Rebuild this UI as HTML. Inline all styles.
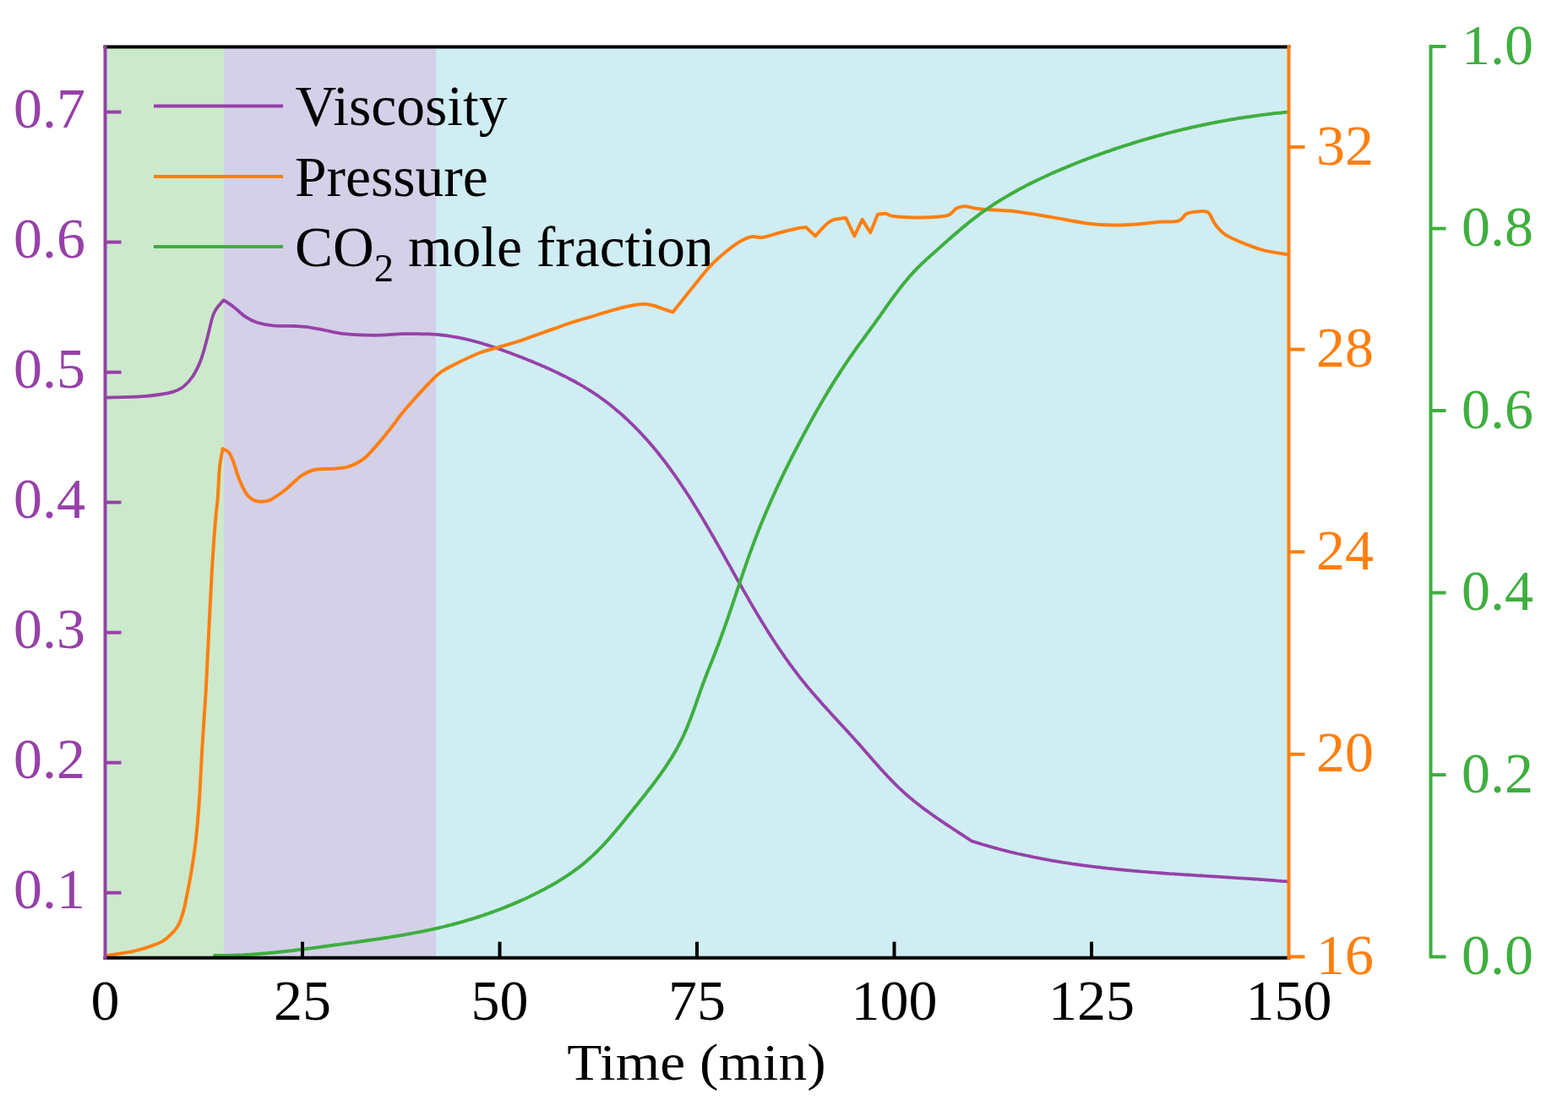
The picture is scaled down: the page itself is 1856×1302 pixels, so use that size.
<!DOCTYPE html>
<html><head><meta charset="utf-8"><style>
html,body{margin:0;padding:0;background:#fff;}
body{width:1856px;height:1302px;overflow:hidden;}
svg{display:block;}
</style></head><body>
<svg width="1856" height="1302" viewBox="0 0 1856 1302">
<rect x="124.5" y="55.6" width="1401.0" height="1078.1000000000001" fill="#cfedf2"/>
<rect x="265" y="55.6" width="251" height="1078.1000000000001" fill="#d3d0e8" shape-rendering="crispEdges"/>
<rect x="124.5" y="55.6" width="140.5" height="1078.1000000000001" fill="#cce9cb"/>
<line x1="182" y1="125.6" x2="335" y2="125.6" stroke="#9641a8" stroke-width="4"/>
<line x1="182" y1="208.9" x2="335" y2="208.9" stroke="#ff7f0e" stroke-width="4"/>
<line x1="182" y1="292" x2="335" y2="292" stroke="#3fae3f" stroke-width="4"/>
<g font-family="&quot;Liberation Serif&quot;, serif" font-size="67.5" fill="#000">
<text x="349.5" y="147.8">Viscosity</text>
<text x="349" y="231.7">Pressure</text>
<text x="349" y="315">CO<tspan font-size="46.5" dy="18">2</tspan><tspan dy="-18"> mole fraction</tspan></text>
</g>
<path d="M126.0,470.6 C132.7,470.4 155.5,470.0 166.0,469.4 C176.5,468.8 182.4,468.0 189.0,467.0 C195.6,466.0 200.7,465.1 205.3,463.6 C209.9,462.1 213.0,461.0 216.8,457.9 C220.6,454.8 224.9,450.4 228.3,445.2 C231.8,440.0 234.8,433.7 237.5,426.8 C240.2,419.9 242.1,412.2 244.4,403.7 C246.7,395.2 249.4,382.3 251.3,376.0 C253.2,369.7 253.8,369.1 256.0,365.7 C258.2,362.2 263.2,357.0 264.7,355.3 C266.7,356.6 272.4,360.1 276.7,363.4 C281.0,366.7 285.9,371.8 290.5,374.9 C295.1,378.0 298.9,380.1 304.3,381.8 C309.7,383.5 315.1,384.6 322.8,385.3 C330.5,386.0 343.5,385.7 350.4,386.0 C357.3,386.3 358.4,386.3 364.2,387.1 C370.0,387.9 377.7,389.6 385.0,391.0 C392.3,392.4 398.4,394.2 408.0,395.2 C417.6,396.2 431.1,396.8 442.6,396.8 C454.1,396.8 467.5,395.5 477.1,395.2 C486.7,394.9 495.6,395.3 500.0,395.3 C504.3,395.3 502.1,395.3 503.2,395.3 C504.3,395.3 505.3,395.4 506.4,395.4 C507.5,395.4 508.5,395.5 509.6,395.5 C510.6,395.6 511.7,395.6 512.7,395.7 C513.8,395.8 514.8,395.8 515.9,395.9 C516.9,396.0 517.9,396.1 519.0,396.2 C520.0,396.3 521.0,396.4 522.1,396.5 C523.1,396.6 524.1,396.7 525.1,396.8 C526.1,396.9 527.2,397.1 528.2,397.2 C529.2,397.3 530.2,397.5 531.2,397.6 C532.2,397.8 533.2,397.9 534.2,398.1 C535.2,398.2 536.2,398.4 537.2,398.6 C538.2,398.7 539.2,398.9 540.2,399.1 C541.2,399.3 542.2,399.5 543.2,399.7 C544.2,399.9 545.2,400.1 546.2,400.3 C547.2,400.5 548.2,400.7 549.1,400.9 C550.1,401.1 551.1,401.3 552.1,401.6 C553.1,401.8 554.0,402.0 555.0,402.3 C556.0,402.5 556.9,402.7 557.9,403.0 C558.9,403.2 559.9,403.5 560.8,403.7 C561.8,404.0 562.8,404.2 563.7,404.5 C564.7,404.8 565.7,405.0 566.6,405.3 C567.6,405.6 568.5,405.9 569.5,406.2 C570.5,406.4 571.4,406.7 572.4,407.0 C573.4,407.3 574.3,407.6 575.3,407.9 C576.2,408.2 577.2,408.5 578.1,408.8 C579.1,409.1 580.0,409.4 581.0,409.7 C582.0,410.0 582.9,410.4 583.9,410.7 C584.8,411.0 585.8,411.3 586.7,411.6 C587.7,412.0 588.6,412.3 589.6,412.6 C590.5,413.0 591.5,413.3 592.5,413.6 C593.4,414.0 594.4,414.3 595.3,414.7 C596.3,415.0 597.2,415.4 598.2,415.7 C599.1,416.1 600.1,416.4 601.0,416.8 C602.0,417.1 602.9,417.5 603.9,417.8 C604.9,418.2 605.8,418.5 606.8,418.9 C607.7,419.3 608.7,419.6 609.6,420.0 C610.6,420.4 611.6,420.7 612.5,421.1 C613.5,421.5 614.4,421.9 615.4,422.2 C616.4,422.6 617.3,423.0 618.3,423.4 C619.3,423.7 620.2,424.1 621.2,424.5 C622.2,424.9 623.1,425.3 624.1,425.7 C625.0,426.0 626.0,426.4 627.0,426.8 C627.9,427.2 628.9,427.6 629.9,428.0 C630.8,428.4 631.8,428.8 632.8,429.2 C633.7,429.6 634.7,430.0 635.7,430.4 C636.6,430.8 637.6,431.2 638.5,431.6 C639.5,432.0 640.5,432.5 641.4,432.9 C642.4,433.3 643.3,433.7 644.3,434.1 C645.3,434.5 646.2,435.0 647.2,435.4 C648.1,435.8 649.1,436.3 650.1,436.7 C651.0,437.1 652.0,437.5 652.9,438.0 C653.9,438.4 654.8,438.9 655.8,439.3 C656.7,439.8 657.7,440.2 658.6,440.6 C659.6,441.1 660.5,441.5 661.5,442.0 C662.4,442.5 663.3,442.9 664.3,443.4 C665.2,443.8 666.2,444.3 667.1,444.8 C668.0,445.2 669.0,445.7 669.9,446.2 C670.8,446.7 671.8,447.1 672.7,447.6 C673.6,448.1 674.5,448.6 675.5,449.1 C676.4,449.6 677.3,450.1 678.2,450.5 C679.1,451.0 680.0,451.5 681.0,452.0 C681.9,452.5 682.8,453.1 683.7,453.6 C684.6,454.1 685.5,454.6 686.4,455.1 C687.3,455.6 688.2,456.1 689.1,456.7 C690.0,457.2 690.9,457.7 691.8,458.2 C692.6,458.8 693.5,459.3 694.4,459.9 C695.3,460.4 696.2,460.9 697.0,461.5 C697.9,462.0 698.8,462.6 699.6,463.1 C700.5,463.7 701.4,464.3 702.2,464.8 C703.1,465.4 703.9,465.9 704.8,466.5 C705.6,467.1 706.5,467.7 707.3,468.2 C708.2,468.8 709.0,469.4 709.8,470.0 C710.7,470.6 711.5,471.2 712.3,471.8 C713.1,472.4 714.0,473.0 714.8,473.6 C715.6,474.2 716.4,474.8 717.2,475.4 C718.0,476.0 718.9,476.6 719.7,477.2 C720.5,477.9 721.3,478.5 722.1,479.1 C722.9,479.7 723.6,480.4 724.4,481.0 C725.2,481.6 726.0,482.3 726.8,482.9 C727.6,483.6 728.4,484.2 729.1,484.9 C729.9,485.5 730.7,486.2 731.4,486.8 C732.2,487.5 733.0,488.1 733.7,488.8 C734.5,489.4 735.3,490.1 736.0,490.8 C736.8,491.5 737.5,492.1 738.3,492.8 C739.0,493.5 739.8,494.2 740.5,494.8 C741.2,495.5 742.0,496.2 742.7,496.9 C743.5,497.6 744.2,498.3 744.9,499.0 C745.6,499.7 746.4,500.4 747.1,501.1 C747.8,501.8 748.5,502.5 749.3,503.2 C750.0,503.9 750.7,504.6 751.4,505.3 C752.1,506.0 752.8,506.8 753.5,507.5 C754.2,508.2 754.9,508.9 755.6,509.7 C756.3,510.4 757.0,511.1 757.7,511.8 C758.4,512.6 759.1,513.3 759.8,514.0 C760.5,514.8 761.1,515.5 761.8,516.3 C762.5,517.0 763.2,517.8 763.9,518.5 C764.5,519.3 765.2,520.0 765.9,520.8 C766.5,521.5 767.2,522.3 767.9,523.0 C768.5,523.8 769.2,524.6 769.9,525.3 C770.5,526.1 771.2,526.9 771.8,527.6 C772.5,528.4 773.1,529.2 773.8,530.0 C774.4,530.7 775.1,531.5 775.7,532.3 C776.4,533.1 777.0,533.9 777.6,534.6 C778.3,535.4 778.9,536.2 779.6,537.0 C780.2,537.8 780.8,538.6 781.5,539.4 C782.1,540.2 782.7,541.0 783.3,541.8 C784.0,542.6 784.6,543.4 785.2,544.2 C785.8,545.0 786.4,545.8 787.1,546.6 C787.7,547.4 788.3,548.2 788.9,549.0 C789.5,549.9 790.1,550.7 790.7,551.5 C791.3,552.3 791.9,553.1 792.5,553.9 C793.1,554.8 793.7,555.6 794.3,556.4 C794.9,557.2 795.5,558.1 796.1,558.9 C796.7,559.7 797.3,560.6 797.9,561.4 C798.5,562.2 799.1,563.1 799.7,563.9 C800.2,564.7 800.8,565.6 801.4,566.4 C802.0,567.2 802.6,568.1 803.2,568.9 C803.7,569.8 804.3,570.6 804.9,571.5 C805.5,572.3 806.0,573.2 806.6,574.0 C807.2,574.9 807.8,575.7 808.3,576.6 C808.9,577.4 809.5,578.3 810.0,579.1 C810.6,580.0 811.1,580.8 811.7,581.7 C812.3,582.6 812.8,583.4 813.4,584.3 C813.9,585.2 814.5,586.0 815.1,586.9 C815.6,587.7 816.2,588.6 816.7,589.5 C817.3,590.3 817.8,591.2 818.4,592.1 C818.9,593.0 819.5,593.8 820.0,594.7 C820.6,595.6 821.1,596.4 821.7,597.3 C822.2,598.2 822.7,599.1 823.3,599.9 C823.8,600.8 824.4,601.7 824.9,602.6 C825.4,603.5 826.0,604.3 826.5,605.2 C827.1,606.1 827.6,607.0 828.1,607.9 C828.7,608.8 829.2,609.6 829.7,610.5 C830.3,611.4 830.8,612.3 831.3,613.2 C831.8,614.1 832.4,615.0 832.9,615.8 C833.4,616.7 834.0,617.6 834.5,618.5 C835.0,619.4 835.5,620.3 836.1,621.2 C836.6,622.1 837.1,623.0 837.6,623.9 C838.1,624.7 838.7,625.6 839.2,626.5 C839.7,627.4 840.2,628.3 840.7,629.2 C841.3,630.1 841.8,631.0 842.3,631.9 C842.8,632.8 843.3,633.7 843.8,634.6 C844.4,635.5 844.9,636.4 845.4,637.3 C845.9,638.2 846.4,639.1 846.9,640.0 C847.4,640.9 847.9,641.8 848.5,642.7 C849.0,643.6 849.5,644.5 850.0,645.4 C850.5,646.3 851.0,647.2 851.5,648.1 C852.0,649.0 852.5,649.9 853.0,650.8 C853.6,651.7 854.1,652.6 854.6,653.5 C855.1,654.4 855.6,655.3 856.1,656.2 C856.6,657.1 857.1,658.0 857.6,658.9 C858.1,659.8 858.6,660.7 859.1,661.6 C859.6,662.5 860.1,663.4 860.6,664.3 C861.1,665.2 861.6,666.1 862.2,667.0 C862.7,667.9 863.2,668.8 863.7,669.7 C864.2,670.6 864.7,671.5 865.2,672.4 C865.7,673.3 866.2,674.2 866.7,675.1 C867.2,676.0 867.7,676.9 868.2,677.8 C868.7,678.7 869.2,679.6 869.7,680.5 C870.2,681.4 870.7,682.3 871.2,683.2 C871.7,684.1 872.2,685.0 872.7,685.9 C873.2,686.8 873.7,687.6 874.2,688.5 C874.8,689.4 875.3,690.3 875.8,691.2 C876.3,692.1 876.8,693.0 877.3,693.9 C877.8,694.8 878.3,695.7 878.8,696.6 C879.3,697.5 879.8,698.4 880.3,699.2 C880.8,700.1 881.3,701.0 881.8,701.9 C882.3,702.8 882.8,703.7 883.4,704.6 C883.9,705.5 884.4,706.3 884.9,707.2 C885.4,708.1 885.9,709.0 886.4,709.9 C886.9,710.8 887.4,711.6 887.9,712.5 C888.5,713.4 889.0,714.3 889.5,715.2 C890.0,716.1 890.5,716.9 891.0,717.8 C891.5,718.7 892.1,719.6 892.6,720.4 C893.1,721.3 893.6,722.2 894.1,723.1 C894.6,723.9 895.2,724.8 895.7,725.7 C896.2,726.6 896.7,727.4 897.2,728.3 C897.8,729.2 898.3,730.1 898.8,730.9 C899.3,731.8 899.9,732.7 900.4,733.5 C900.9,734.4 901.4,735.3 902.0,736.1 C902.5,737.0 903.0,737.9 903.6,738.7 C904.1,739.6 904.6,740.5 905.2,741.3 C905.7,742.2 906.2,743.0 906.8,743.9 C907.3,744.8 907.8,745.6 908.4,746.5 C908.9,747.3 909.4,748.2 910.0,749.1 C910.5,749.9 911.1,750.8 911.6,751.6 C912.2,752.5 912.7,753.3 913.3,754.2 C913.8,755.0 914.4,755.9 914.9,756.7 C915.5,757.6 916.0,758.4 916.6,759.3 C917.1,760.1 917.7,761.0 918.2,761.8 C918.8,762.7 919.3,763.5 919.9,764.3 C920.5,765.2 921.0,766.0 921.6,766.9 C922.2,767.7 922.7,768.5 923.3,769.4 C923.9,770.2 924.4,771.0 925.0,771.9 C925.6,772.7 926.2,773.6 926.7,774.4 C927.3,775.2 927.9,776.0 928.5,776.9 C929.0,777.7 929.6,778.5 930.2,779.4 C930.8,780.2 931.4,781.0 932.0,781.8 C932.6,782.7 933.1,783.5 933.7,784.3 C934.3,785.1 934.9,786.0 935.5,786.8 C936.1,787.6 936.7,788.4 937.3,789.2 C937.9,790.0 938.5,790.9 939.1,791.7 C939.8,792.5 940.4,793.3 941.0,794.1 C941.6,794.9 942.2,795.7 942.8,796.5 C943.4,797.3 944.1,798.1 944.7,799.0 C945.3,799.8 945.9,800.6 946.5,801.4 C947.2,802.2 947.8,803.0 948.4,803.8 C949.1,804.6 949.7,805.4 950.3,806.2 C951.0,807.0 951.6,807.7 952.3,808.5 C952.9,809.3 953.6,810.1 954.2,810.9 C954.9,811.7 955.5,812.5 956.2,813.3 C956.8,814.1 957.5,814.8 958.1,815.6 C958.8,816.4 959.5,817.2 960.1,818.0 C960.8,818.8 961.4,819.5 962.1,820.3 C962.8,821.1 963.5,821.9 964.1,822.7 C964.8,823.4 965.5,824.2 966.1,825.0 C966.8,825.8 967.5,826.5 968.2,827.3 C968.9,828.1 969.5,828.8 970.2,829.6 C970.9,830.4 971.6,831.1 972.3,831.9 C973.0,832.7 973.7,833.5 974.3,834.2 C975.0,835.0 975.7,835.8 976.4,836.5 C977.1,837.3 977.8,838.0 978.5,838.8 C979.2,839.6 979.9,840.3 980.6,841.1 C981.3,841.9 982.0,842.6 982.7,843.4 C983.3,844.1 984.0,844.9 984.7,845.7 C985.4,846.4 986.1,847.2 986.8,848.0 C987.5,848.7 988.2,849.5 988.9,850.2 C989.6,851.0 990.3,851.7 991.0,852.5 C991.7,853.3 992.4,854.0 993.1,854.8 C993.8,855.5 994.5,856.3 995.2,857.1 C995.9,857.8 996.6,858.6 997.3,859.3 C998.0,860.1 998.7,860.8 999.4,861.6 C1000.1,862.4 1000.8,863.1 1001.5,863.9 C1002.2,864.6 1002.9,865.4 1003.6,866.2 C1004.3,866.9 1005.0,867.7 1005.6,868.4 C1006.3,869.2 1007.0,869.9 1007.7,870.7 C1008.4,871.5 1009.1,872.2 1009.8,873.0 C1010.5,873.7 1011.2,874.5 1011.8,875.3 C1012.5,876.0 1013.2,876.8 1013.9,877.6 C1014.6,878.3 1015.3,879.1 1015.9,879.8 C1016.6,880.6 1017.3,881.4 1018.0,882.1 C1018.6,882.9 1019.3,883.7 1020.0,884.4 C1020.7,885.2 1021.3,886.0 1022.0,886.7 C1022.7,887.5 1023.3,888.3 1024.0,889.0 C1024.7,889.8 1025.4,890.6 1026.0,891.3 C1026.7,892.1 1027.4,892.9 1028.0,893.6 C1028.7,894.4 1029.4,895.1 1030.0,895.9 C1030.7,896.7 1031.4,897.4 1032.0,898.2 C1032.7,899.0 1033.4,899.7 1034.0,900.5 C1034.7,901.2 1035.4,902.0 1036.1,902.8 C1036.7,903.5 1037.4,904.3 1038.1,905.0 C1038.7,905.8 1039.4,906.5 1040.1,907.3 C1040.8,908.1 1041.4,908.8 1042.1,909.6 C1042.8,910.3 1043.5,911.1 1044.2,911.8 C1044.8,912.6 1045.5,913.3 1046.2,914.0 C1046.9,914.8 1047.6,915.5 1048.3,916.3 C1048.9,917.0 1049.6,917.7 1050.3,918.5 C1051.0,919.2 1051.7,919.9 1052.4,920.7 C1053.1,921.4 1053.8,922.1 1054.5,922.9 C1055.2,923.6 1055.9,924.3 1056.6,925.0 C1057.3,925.8 1058.0,926.5 1058.7,927.2 C1059.5,927.9 1060.2,928.6 1060.9,929.3 C1061.6,930.0 1062.3,930.8 1063.1,931.5 C1063.8,932.2 1064.5,932.9 1065.3,933.6 C1066.0,934.3 1066.7,934.9 1067.5,935.6 C1068.2,936.3 1069.0,937.0 1069.7,937.7 C1070.5,938.4 1071.2,939.1 1072.0,939.7 C1072.8,940.4 1073.5,941.1 1074.3,941.8 C1075.1,942.4 1075.8,943.1 1076.6,943.8 C1077.4,944.4 1078.2,945.1 1079.0,945.7 C1079.7,946.4 1080.5,947.0 1081.3,947.7 C1082.1,948.3 1082.9,949.0 1083.7,949.6 C1084.5,950.3 1085.3,950.9 1086.1,951.5 C1087.0,952.2 1087.8,952.8 1088.6,953.4 C1089.4,954.0 1090.2,954.7 1091.0,955.3 C1091.9,955.9 1092.7,956.5 1093.5,957.2 C1094.3,957.8 1095.2,958.4 1096.0,959.0 C1096.8,959.6 1097.7,960.2 1098.5,960.8 C1099.3,961.4 1100.2,962.0 1101.0,962.6 C1101.9,963.2 1102.7,963.8 1103.6,964.4 C1104.4,965.0 1105.2,965.6 1106.1,966.2 C1106.9,966.8 1107.8,967.4 1108.6,968.0 C1109.5,968.6 1110.3,969.2 1111.2,969.7 C1112.1,970.3 1112.9,970.9 1113.8,971.5 C1114.6,972.1 1115.5,972.7 1116.3,973.2 C1117.2,973.8 1118.0,974.4 1118.9,975.0 C1119.8,975.5 1120.6,976.1 1121.5,976.7 C1122.3,977.2 1123.2,977.8 1124.1,978.4 C1124.9,978.9 1125.8,979.5 1126.6,980.1 C1127.5,980.6 1128.3,981.2 1129.2,981.8 C1130.1,982.3 1130.9,982.9 1131.8,983.5 C1132.6,984.0 1133.5,984.6 1134.3,985.1 C1135.2,985.7 1136.1,986.3 1136.9,986.8 C1137.8,987.4 1138.6,987.9 1139.5,988.5 C1140.3,989.1 1141.2,989.6 1142.0,990.2 C1142.9,990.7 1143.7,991.3 1144.5,991.8 C1145.4,992.4 1146.2,992.9 1147.1,993.5 C1147.9,994.1 1148.7,994.7 1149.6,995.2 C1150.5,995.6 1151.6,995.9 1152.6,996.2 C1153.6,996.6 1154.6,996.9 1155.7,997.2 C1156.7,997.5 1157.7,997.8 1158.7,998.1 C1159.7,998.5 1160.7,998.8 1161.7,999.1 C1162.8,999.4 1163.8,999.7 1164.8,1000.0 C1165.8,1000.3 1166.8,1000.6 1167.9,1000.9 C1168.9,1001.2 1169.9,1001.5 1170.9,1001.8 C1171.9,1002.1 1173.0,1002.4 1174.0,1002.6 C1175.0,1002.9 1176.0,1003.2 1177.0,1003.5 C1178.1,1003.8 1179.1,1004.1 1180.1,1004.3 C1181.1,1004.6 1182.2,1004.9 1183.2,1005.2 C1184.2,1005.4 1185.2,1005.7 1186.3,1006.0 C1187.3,1006.2 1188.3,1006.5 1189.3,1006.7 C1190.4,1007.0 1191.4,1007.3 1192.4,1007.5 C1193.4,1007.8 1194.5,1008.0 1195.5,1008.3 C1196.5,1008.5 1197.6,1008.8 1198.6,1009.0 C1199.6,1009.3 1200.6,1009.5 1201.7,1009.8 C1202.7,1010.0 1203.7,1010.2 1204.8,1010.5 C1205.8,1010.7 1206.8,1010.9 1207.9,1011.2 C1208.9,1011.4 1209.9,1011.6 1211.0,1011.9 C1212.0,1012.1 1213.0,1012.3 1214.0,1012.5 C1215.1,1012.8 1216.1,1013.0 1217.2,1013.2 C1218.2,1013.4 1219.2,1013.6 1220.3,1013.8 C1221.3,1014.1 1222.3,1014.3 1223.4,1014.5 C1224.4,1014.7 1225.4,1014.9 1226.5,1015.1 C1227.5,1015.3 1228.5,1015.5 1229.6,1015.7 C1230.6,1015.9 1231.7,1016.1 1232.7,1016.3 C1233.7,1016.5 1234.8,1016.7 1235.8,1016.9 C1236.8,1017.1 1237.9,1017.3 1238.9,1017.5 C1240.0,1017.7 1241.0,1017.8 1242.0,1018.0 C1243.1,1018.2 1244.1,1018.4 1245.2,1018.6 C1246.2,1018.8 1247.3,1018.9 1248.3,1019.1 C1249.3,1019.3 1250.4,1019.5 1251.4,1019.6 C1252.5,1019.8 1253.5,1020.0 1254.5,1020.2 C1255.6,1020.3 1256.6,1020.5 1257.7,1020.7 C1258.7,1020.8 1259.8,1021.0 1260.8,1021.2 C1261.9,1021.3 1262.9,1021.5 1263.9,1021.6 C1265.0,1021.8 1266.0,1022.0 1267.1,1022.1 C1268.1,1022.3 1269.2,1022.4 1270.2,1022.6 C1271.3,1022.7 1272.3,1022.9 1273.4,1023.0 C1274.4,1023.2 1275.5,1023.3 1276.5,1023.5 C1277.5,1023.6 1278.6,1023.8 1279.6,1023.9 C1280.7,1024.1 1281.7,1024.2 1282.8,1024.3 C1283.8,1024.5 1284.9,1024.6 1285.9,1024.7 C1287.0,1024.9 1288.0,1025.0 1289.1,1025.2 C1290.1,1025.3 1291.2,1025.4 1292.2,1025.5 C1293.3,1025.7 1294.3,1025.8 1295.4,1025.9 C1296.4,1026.1 1297.5,1026.2 1298.5,1026.3 C1299.6,1026.4 1300.6,1026.6 1301.7,1026.7 C1302.7,1026.8 1303.8,1026.9 1304.8,1027.1 C1305.9,1027.2 1306.9,1027.3 1308.0,1027.4 C1309.0,1027.5 1310.1,1027.6 1311.2,1027.8 C1312.2,1027.9 1313.3,1028.0 1314.3,1028.1 C1315.4,1028.2 1316.4,1028.3 1317.5,1028.4 C1318.5,1028.5 1319.6,1028.6 1320.6,1028.8 C1321.7,1028.9 1322.7,1029.0 1323.8,1029.1 C1324.9,1029.2 1325.9,1029.3 1327.0,1029.4 C1328.0,1029.5 1329.1,1029.6 1330.1,1029.7 C1331.2,1029.8 1332.2,1029.9 1333.3,1030.0 C1334.3,1030.1 1335.4,1030.2 1336.5,1030.3 C1337.5,1030.4 1338.6,1030.5 1339.6,1030.6 C1340.7,1030.7 1341.7,1030.8 1342.8,1030.8 C1343.8,1030.9 1344.9,1031.0 1346.0,1031.1 C1347.0,1031.2 1348.1,1031.3 1349.1,1031.4 C1350.2,1031.5 1351.2,1031.6 1352.3,1031.7 C1353.4,1031.7 1354.4,1031.8 1355.5,1031.9 C1356.5,1032.0 1357.6,1032.1 1358.6,1032.2 C1359.7,1032.3 1360.8,1032.3 1361.8,1032.4 C1362.9,1032.5 1363.9,1032.6 1365.0,1032.7 C1366.0,1032.7 1367.1,1032.8 1368.2,1032.9 C1369.2,1033.0 1370.3,1033.1 1371.3,1033.1 C1372.4,1033.2 1373.4,1033.3 1374.5,1033.4 C1375.6,1033.5 1376.6,1033.5 1377.7,1033.6 C1378.7,1033.7 1379.8,1033.8 1380.9,1033.8 C1381.9,1033.9 1383.0,1034.0 1384.0,1034.1 C1385.1,1034.1 1386.1,1034.2 1387.2,1034.3 C1388.3,1034.3 1389.3,1034.4 1390.4,1034.5 C1391.4,1034.6 1392.5,1034.6 1393.6,1034.7 C1394.6,1034.8 1395.7,1034.8 1396.7,1034.9 C1397.8,1035.0 1398.9,1035.1 1399.9,1035.1 C1401.0,1035.2 1402.0,1035.3 1403.1,1035.3 C1404.1,1035.4 1405.2,1035.5 1406.3,1035.5 C1407.3,1035.6 1408.4,1035.7 1409.4,1035.7 C1410.5,1035.8 1411.6,1035.9 1412.6,1035.9 C1413.7,1036.0 1414.7,1036.1 1415.8,1036.1 C1416.8,1036.2 1417.9,1036.3 1419.0,1036.3 C1420.0,1036.4 1421.1,1036.5 1422.1,1036.5 C1423.2,1036.6 1424.3,1036.7 1425.3,1036.7 C1426.4,1036.8 1427.4,1036.9 1428.5,1036.9 C1429.5,1037.0 1430.6,1037.1 1431.7,1037.1 C1432.7,1037.2 1433.8,1037.2 1434.8,1037.3 C1435.9,1037.4 1437.0,1037.4 1438.0,1037.5 C1439.1,1037.6 1440.1,1037.6 1441.2,1037.7 C1442.2,1037.8 1443.3,1037.8 1444.4,1037.9 C1445.4,1038.0 1446.5,1038.0 1447.5,1038.1 C1448.6,1038.2 1449.6,1038.2 1450.7,1038.3 C1451.8,1038.3 1452.8,1038.4 1453.9,1038.5 C1454.9,1038.5 1456.0,1038.6 1457.0,1038.7 C1458.1,1038.7 1459.2,1038.8 1460.2,1038.9 C1461.3,1038.9 1462.3,1039.0 1463.4,1039.1 C1464.4,1039.1 1465.5,1039.2 1466.6,1039.3 C1467.6,1039.3 1468.7,1039.4 1469.7,1039.5 C1470.8,1039.5 1471.8,1039.6 1472.9,1039.7 C1473.9,1039.8 1475.0,1039.8 1476.1,1039.9 C1477.1,1040.0 1478.2,1040.0 1479.2,1040.1 C1480.3,1040.2 1481.3,1040.2 1482.4,1040.3 C1483.4,1040.4 1484.5,1040.5 1485.5,1040.5 C1486.6,1040.6 1487.7,1040.7 1488.7,1040.7 C1489.8,1040.8 1490.8,1040.9 1491.9,1041.0 C1492.9,1041.0 1494.0,1041.1 1495.0,1041.2 C1496.1,1041.3 1497.1,1041.3 1498.2,1041.4 C1499.2,1041.5 1500.3,1041.6 1501.3,1041.6 C1502.4,1041.7 1503.4,1041.8 1504.5,1041.9 C1505.5,1042.0 1506.6,1042.0 1507.7,1042.1 C1508.7,1042.2 1509.8,1042.3 1510.8,1042.4 C1511.9,1042.4 1512.9,1042.5 1514.0,1042.6 C1515.0,1042.7 1516.1,1042.8 1517.1,1042.9 C1518.2,1042.9 1519.2,1043.0 1520.3,1043.1 C1521.3,1043.2 1522.9,1043.3 1523.4,1043.4" fill="none" stroke="#9641a8" stroke-width="3.8" stroke-linejoin="round" stroke-linecap="round"/>
<path d="M126.0,1131.2 C127.6,1131.0 130.0,1130.6 135.4,1129.7 C140.8,1128.8 151.1,1127.6 158.4,1125.9 C165.7,1124.2 173.6,1121.8 179.4,1119.7 C185.2,1117.7 189.4,1115.9 193.2,1113.6 C197.0,1111.3 199.4,1109.0 202.4,1105.9 C205.4,1102.8 208.6,1099.7 211.1,1095.1 C213.6,1090.5 215.4,1084.6 217.2,1078.2 C219.0,1071.8 220.3,1064.4 221.8,1056.7 C223.3,1049.0 224.9,1041.4 226.4,1032.2 C227.9,1023.0 229.7,1011.6 231.0,1001.4 C232.3,991.1 233.2,980.9 234.1,970.7 C235.0,960.5 235.6,953.7 236.4,940.0 C237.2,926.3 237.9,909.0 239.1,888.7 C240.3,868.4 242.3,841.6 243.7,818.0 C245.0,794.4 246.0,770.8 247.2,747.3 C248.4,723.8 249.5,698.5 250.8,676.7 C252.1,654.9 253.8,631.3 255.0,616.6 C256.2,601.9 257.0,598.9 257.8,588.3 C258.6,577.7 259.0,562.5 260.0,553.0 C261.0,543.5 263.0,534.8 263.6,531.1 C264.8,531.8 268.6,532.8 270.7,535.3 C272.8,537.8 273.9,540.7 276.0,546.0 C278.1,551.3 280.4,560.5 283.0,567.0 C285.6,573.5 289.1,580.6 291.9,584.8 C294.7,588.9 297.1,590.4 300.0,591.9 C302.9,593.4 305.6,593.9 309.0,593.8 C312.4,593.7 315.5,594.0 320.5,591.5 C325.5,589.0 332.8,583.6 338.9,578.8 C345.0,574.0 351.5,566.5 357.3,562.7 C363.1,558.9 367.0,557.1 373.5,555.8 C380.0,554.5 390.0,555.3 396.5,554.7 C403.0,554.1 406.9,554.4 412.6,552.4 C418.3,550.4 424.6,547.8 430.7,542.9 C436.8,538.0 443.5,529.8 449.2,523.2 C454.9,516.7 460.6,509.3 465.1,503.6 C469.6,497.9 471.7,494.3 476.2,488.8 C480.7,483.3 486.5,476.8 492.2,470.4 C497.9,464.0 505.5,455.8 510.6,450.7 C515.7,445.6 517.8,443.2 522.9,439.7 C528.0,436.2 534.0,433.4 541.3,429.8 C548.6,426.2 558.8,421.1 566.8,418.0 C574.8,414.9 581.7,413.5 589.1,411.3 C596.5,409.1 604.0,407.0 611.4,404.6 C618.8,402.2 626.3,399.4 633.7,396.8 C641.1,394.2 648.5,391.6 655.9,389.0 C663.3,386.4 670.8,383.6 678.2,381.2 C685.6,378.8 693.1,376.8 700.5,374.6 C707.9,372.4 715.4,369.9 722.8,367.9 C730.2,365.8 738.7,363.6 745.0,362.3 C751.3,361.0 756.1,360.3 760.6,360.1 C765.1,359.9 767.7,360.3 771.8,361.2 C775.9,362.1 781.0,364.2 785.1,365.6 C789.2,367.0 794.5,368.9 796.4,369.5 C800.5,364.4 813.5,348.0 821.0,338.8 C828.5,329.6 834.6,321.4 841.4,314.2 C848.2,307.0 855.8,300.8 861.9,295.8 C868.0,290.9 873.5,287.1 878.3,284.5 C883.1,281.9 886.5,280.6 890.6,280.0 C894.7,279.4 897.5,281.8 902.9,281.0 C908.3,280.2 916.5,277.1 923.3,275.3 C930.1,273.5 938.7,271.2 943.8,270.2 C948.9,269.2 952.3,269.3 954.0,269.1 C955.9,270.8 963.4,277.7 965.3,279.4 C966.8,277.7 971.3,272.2 974.5,269.1 C977.7,266.0 980.3,262.9 984.7,261.0 C989.1,259.1 998.4,258.4 1001.1,257.9 C1002.8,261.5 1009.7,275.8 1011.4,279.4 C1012.9,276.1 1019.1,263.1 1020.6,259.9 C1022.2,262.5 1028.6,272.7 1030.2,275.3 C1031.7,271.7 1037.5,257.4 1039.0,253.8 C1040.5,253.6 1045.3,252.5 1048.2,252.8 C1051.1,253.1 1051.6,255.1 1056.4,255.8 C1061.2,256.6 1070.1,257.1 1076.9,257.3 C1083.7,257.6 1089.9,257.7 1097.4,257.3 C1104.9,256.9 1116.1,256.6 1121.9,254.8 C1127.7,253.0 1128.8,248.4 1132.2,246.6 C1135.6,244.8 1137.6,244.0 1142.4,244.2 C1147.2,244.4 1150.9,246.6 1161.0,247.6 C1171.1,248.6 1189.0,248.8 1203.0,250.4 C1217.0,252.0 1231.0,254.8 1245.0,257.1 C1259.0,259.4 1274.8,262.8 1287.1,264.4 C1299.4,266.0 1308.1,266.4 1318.6,266.5 C1329.1,266.6 1341.3,265.7 1350.1,265.1 C1358.8,264.5 1363.7,263.4 1371.1,262.8 C1378.5,262.2 1388.7,263.3 1394.3,261.7 C1399.9,260.1 1400.9,254.8 1404.8,252.9 C1408.7,251.0 1413.2,250.7 1417.4,250.4 C1421.6,250.2 1426.5,248.9 1430.0,251.4 C1433.5,253.9 1434.9,261.1 1438.4,265.5 C1441.9,269.9 1444.7,274.1 1451.0,278.1 C1457.3,282.1 1468.5,286.6 1476.2,289.7 C1483.9,292.8 1489.3,294.7 1497.2,296.6 C1505.1,298.5 1519.1,300.4 1523.5,301.2" fill="none" stroke="#ff7f0e" stroke-width="4" stroke-linejoin="round" stroke-linecap="round"/>
<path d="M254.0,1131.1 C254.5,1131.1 256.3,1131.1 257.5,1131.1 C258.7,1131.1 259.9,1131.1 261.1,1131.1 C262.2,1131.1 263.4,1131.1 264.6,1131.1 C265.8,1131.1 267.0,1131.0 268.1,1131.0 C269.3,1131.0 270.5,1131.0 271.7,1130.9 C272.9,1130.9 274.0,1130.8 275.2,1130.8 C276.4,1130.8 277.6,1130.7 278.7,1130.7 C279.9,1130.6 281.1,1130.6 282.3,1130.5 C283.4,1130.5 284.6,1130.4 285.8,1130.4 C287.0,1130.3 288.1,1130.2 289.3,1130.2 C290.5,1130.1 291.7,1130.1 292.8,1130.0 C294.0,1129.9 295.2,1129.8 296.4,1129.8 C297.5,1129.7 298.7,1129.6 299.9,1129.5 C301.0,1129.4 302.2,1129.4 303.4,1129.3 C304.6,1129.2 305.7,1129.1 306.9,1129.0 C308.1,1128.9 309.2,1128.8 310.4,1128.7 C311.6,1128.6 312.7,1128.5 313.9,1128.4 C315.1,1128.3 316.2,1128.2 317.4,1128.1 C318.6,1128.0 319.7,1127.9 320.9,1127.8 C322.1,1127.7 323.2,1127.6 324.4,1127.4 C325.6,1127.3 326.7,1127.2 327.9,1127.1 C329.1,1127.0 330.2,1126.8 331.4,1126.7 C332.6,1126.6 333.7,1126.5 334.9,1126.3 C336.1,1126.2 337.2,1126.1 338.4,1126.0 C339.6,1125.8 340.7,1125.7 341.9,1125.6 C343.1,1125.4 344.2,1125.3 345.4,1125.2 C346.6,1125.0 347.7,1124.9 348.9,1124.7 C350.0,1124.6 351.2,1124.5 352.4,1124.3 C353.5,1124.2 354.7,1124.0 355.9,1123.9 C357.0,1123.8 358.2,1123.6 359.4,1123.5 C360.5,1123.3 361.7,1123.2 362.9,1123.0 C364.0,1122.9 365.2,1122.7 366.3,1122.6 C367.5,1122.4 368.7,1122.3 369.8,1122.1 C371.0,1122.0 372.2,1121.8 373.3,1121.7 C374.5,1121.5 375.7,1121.3 376.8,1121.2 C378.0,1121.0 379.1,1120.9 380.3,1120.7 C381.5,1120.6 382.6,1120.4 383.8,1120.2 C385.0,1120.1 386.1,1119.9 387.3,1119.8 C388.5,1119.6 389.6,1119.5 390.8,1119.3 C391.9,1119.1 393.1,1119.0 394.3,1118.8 C395.4,1118.7 396.6,1118.5 397.8,1118.3 C398.9,1118.2 400.1,1118.0 401.3,1117.9 C402.4,1117.7 403.6,1117.6 404.8,1117.4 C405.9,1117.2 407.1,1117.1 408.3,1116.9 C409.4,1116.8 410.6,1116.6 411.8,1116.4 C412.9,1116.3 414.1,1116.1 415.3,1116.0 C416.4,1115.8 417.6,1115.6 418.7,1115.5 C419.9,1115.3 421.1,1115.2 422.2,1115.0 C423.4,1114.8 424.6,1114.7 425.7,1114.5 C426.9,1114.3 428.1,1114.2 429.2,1114.0 C430.4,1113.9 431.6,1113.7 432.7,1113.5 C433.9,1113.4 435.1,1113.2 436.2,1113.0 C437.4,1112.9 438.6,1112.7 439.7,1112.5 C440.9,1112.4 442.1,1112.2 443.2,1112.0 C444.4,1111.8 445.6,1111.7 446.7,1111.5 C447.9,1111.3 449.1,1111.1 450.2,1111.0 C451.4,1110.8 452.5,1110.6 453.7,1110.4 C454.9,1110.3 456.0,1110.1 457.2,1109.9 C458.4,1109.7 459.5,1109.5 460.7,1109.4 C461.9,1109.2 463.0,1109.0 464.2,1108.8 C465.3,1108.6 466.5,1108.4 467.7,1108.2 C468.8,1108.0 470.0,1107.9 471.1,1107.7 C472.3,1107.5 473.5,1107.3 474.6,1107.1 C475.8,1106.9 476.9,1106.7 478.1,1106.5 C479.3,1106.3 480.4,1106.1 481.6,1105.9 C482.7,1105.7 483.9,1105.4 485.0,1105.2 C486.2,1105.0 487.4,1104.8 488.5,1104.6 C489.7,1104.4 490.8,1104.2 492.0,1103.9 C493.1,1103.7 494.3,1103.5 495.4,1103.3 C496.6,1103.1 497.7,1102.8 498.9,1102.6 C500.0,1102.4 501.2,1102.1 502.3,1101.9 C503.5,1101.7 504.6,1101.4 505.8,1101.2 C506.9,1101.0 508.1,1100.7 509.2,1100.5 C510.4,1100.2 511.5,1100.0 512.7,1099.7 C513.8,1099.5 515.0,1099.2 516.1,1099.0 C517.3,1098.7 518.4,1098.4 519.5,1098.2 C520.7,1097.9 521.8,1097.6 523.0,1097.4 C524.1,1097.1 525.2,1096.8 526.4,1096.6 C527.5,1096.3 528.7,1096.0 529.8,1095.7 C530.9,1095.4 532.1,1095.1 533.2,1094.9 C534.3,1094.6 535.5,1094.3 536.6,1094.0 C537.7,1093.7 538.9,1093.4 540.0,1093.1 C541.1,1092.8 542.3,1092.5 543.4,1092.1 C544.5,1091.8 545.7,1091.5 546.8,1091.2 C547.9,1090.9 549.0,1090.6 550.2,1090.2 C551.3,1089.9 552.4,1089.6 553.5,1089.2 C554.7,1088.9 555.8,1088.6 556.9,1088.2 C558.0,1087.9 559.1,1087.5 560.3,1087.2 C561.4,1086.8 562.5,1086.5 563.6,1086.1 C564.7,1085.8 565.9,1085.4 567.0,1085.0 C568.1,1084.7 569.2,1084.3 570.3,1083.9 C571.4,1083.6 572.5,1083.2 573.6,1082.8 C574.7,1082.4 575.9,1082.1 577.0,1081.7 C578.1,1081.3 579.2,1080.9 580.3,1080.5 C581.4,1080.1 582.5,1079.7 583.6,1079.3 C584.7,1078.9 585.8,1078.5 586.9,1078.1 C588.0,1077.7 589.1,1077.3 590.2,1076.9 C591.3,1076.4 592.4,1076.0 593.5,1075.6 C594.6,1075.2 595.7,1074.7 596.8,1074.3 C597.8,1073.9 598.9,1073.4 600.0,1073.0 C601.1,1072.6 602.2,1072.1 603.3,1071.7 C604.4,1071.2 605.5,1070.8 606.5,1070.3 C607.6,1069.9 608.7,1069.4 609.8,1068.9 C610.9,1068.5 611.9,1068.0 613.0,1067.5 C614.1,1067.1 615.2,1066.6 616.3,1066.1 C617.3,1065.6 618.4,1065.1 619.5,1064.7 C620.5,1064.2 621.6,1063.7 622.7,1063.2 C623.8,1062.7 624.8,1062.2 625.9,1061.7 C627.0,1061.2 628.0,1060.7 629.1,1060.2 C630.1,1059.6 631.2,1059.1 632.3,1058.6 C633.3,1058.1 634.4,1057.6 635.4,1057.0 C636.5,1056.5 637.5,1056.0 638.6,1055.4 C639.6,1054.9 640.7,1054.4 641.7,1053.8 C642.8,1053.3 643.8,1052.7 644.9,1052.2 C645.9,1051.6 647.0,1051.0 648.0,1050.5 C649.0,1049.9 650.1,1049.3 651.1,1048.8 C652.1,1048.2 653.2,1047.6 654.2,1047.0 C655.2,1046.4 656.2,1045.9 657.2,1045.3 C658.3,1044.7 659.3,1044.1 660.3,1043.4 C661.3,1042.8 662.3,1042.2 663.3,1041.6 C664.3,1041.0 665.3,1040.4 666.3,1039.7 C667.3,1039.1 668.3,1038.5 669.3,1037.8 C670.2,1037.2 671.2,1036.5 672.2,1035.9 C673.2,1035.2 674.1,1034.6 675.1,1033.9 C676.1,1033.2 677.0,1032.6 678.0,1031.9 C678.9,1031.2 679.9,1030.5 680.8,1029.8 C681.8,1029.2 682.7,1028.5 683.7,1027.8 C684.6,1027.0 685.5,1026.3 686.4,1025.6 C687.4,1024.9 688.3,1024.2 689.2,1023.4 C690.1,1022.7 691.0,1022.0 691.9,1021.2 C692.8,1020.5 693.7,1019.7 694.6,1019.0 C695.5,1018.2 696.3,1017.4 697.2,1016.7 C698.1,1015.9 698.9,1015.1 699.8,1014.3 C700.7,1013.5 701.5,1012.7 702.4,1011.9 C703.2,1011.1 704.0,1010.3 704.9,1009.5 C705.7,1008.7 706.5,1007.9 707.4,1007.1 C708.2,1006.3 709.0,1005.4 709.8,1004.6 C710.6,1003.8 711.5,1002.9 712.3,1002.1 C713.1,1001.2 713.9,1000.4 714.7,999.5 C715.5,998.7 716.3,997.8 717.1,996.9 C717.8,996.1 718.6,995.2 719.4,994.3 C720.2,993.5 721.0,992.6 721.7,991.7 C722.5,990.8 723.3,990.0 724.1,989.1 C724.8,988.2 725.6,987.3 726.4,986.4 C727.1,985.5 727.9,984.6 728.6,983.7 C729.4,982.8 730.2,981.9 730.9,981.0 C731.7,980.1 732.4,979.2 733.2,978.3 C733.9,977.4 734.7,976.5 735.4,975.6 C736.2,974.6 736.9,973.7 737.7,972.8 C738.4,971.9 739.1,971.0 739.9,970.1 C740.6,969.1 741.4,968.2 742.1,967.3 C742.8,966.4 743.6,965.5 744.3,964.5 C745.1,963.6 745.8,962.7 746.5,961.8 C747.3,960.8 748.0,959.9 748.8,959.0 C749.5,958.1 750.2,957.1 751.0,956.2 C751.7,955.3 752.5,954.4 753.2,953.5 C753.9,952.5 754.7,951.6 755.4,950.7 C756.2,949.8 756.9,948.8 757.6,947.9 C758.4,947.0 759.1,946.1 759.9,945.1 C760.6,944.2 761.3,943.3 762.1,942.4 C762.8,941.4 763.5,940.5 764.3,939.6 C765.0,938.6 765.7,937.7 766.4,936.8 C767.2,935.8 767.9,934.9 768.6,934.0 C769.3,933.0 770.1,932.1 770.8,931.2 C771.5,930.2 772.2,929.3 772.9,928.4 C773.6,927.4 774.4,926.5 775.1,925.5 C775.8,924.6 776.5,923.7 777.2,922.7 C777.9,921.8 778.6,920.8 779.3,919.9 C780.0,918.9 780.6,918.0 781.3,917.0 C782.0,916.1 782.7,915.1 783.4,914.1 C784.1,913.2 784.7,912.2 785.4,911.3 C786.1,910.3 786.7,909.3 787.4,908.4 C788.0,907.4 788.7,906.4 789.3,905.4 C790.0,904.5 790.6,903.5 791.3,902.5 C791.9,901.5 792.5,900.5 793.2,899.6 C793.8,898.6 794.4,897.6 795.0,896.6 C795.6,895.6 796.2,894.6 796.8,893.6 C797.4,892.6 798.0,891.6 798.6,890.6 C799.2,889.6 799.8,888.6 800.4,887.6 C800.9,886.5 801.5,885.5 802.1,884.5 C802.6,883.5 803.2,882.5 803.7,881.4 C804.3,880.4 804.8,879.4 805.3,878.3 C805.9,877.3 806.4,876.2 806.9,875.2 C807.4,874.1 807.9,873.1 808.4,872.0 C808.9,871.0 809.4,869.9 809.9,868.9 C810.4,867.8 810.8,866.7 811.3,865.6 C811.8,864.6 812.2,863.5 812.7,862.4 C813.1,861.3 813.6,860.3 814.0,859.2 C814.5,858.1 814.9,857.0 815.3,855.9 C815.8,854.8 816.2,853.7 816.6,852.6 C817.0,851.5 817.5,850.4 817.9,849.3 C818.3,848.2 818.7,847.1 819.1,846.0 C819.5,844.9 819.9,843.8 820.3,842.7 C820.7,841.6 821.1,840.5 821.5,839.4 C821.9,838.3 822.3,837.2 822.7,836.0 C823.1,834.9 823.5,833.8 823.9,832.7 C824.3,831.6 824.6,830.5 825.0,829.4 C825.4,828.3 825.8,827.1 826.2,826.0 C826.6,824.9 827.0,823.8 827.4,822.7 C827.8,821.6 828.2,820.5 828.5,819.3 C828.9,818.2 829.3,817.1 829.7,816.0 C830.1,814.9 830.5,813.8 830.9,812.7 C831.3,811.6 831.7,810.5 832.1,809.4 C832.5,808.3 833.0,807.1 833.4,806.0 C833.8,804.9 834.2,803.8 834.6,802.7 C835.0,801.7 835.5,800.6 835.9,799.5 C836.3,798.4 836.7,797.3 837.2,796.2 C837.6,795.1 838.0,794.0 838.5,792.9 C838.9,791.8 839.3,790.7 839.8,789.6 C840.2,788.5 840.6,787.4 841.1,786.4 C841.5,785.3 841.9,784.2 842.4,783.1 C842.8,782.0 843.2,780.9 843.7,779.8 C844.1,778.7 844.5,777.6 845.0,776.6 C845.4,775.5 845.8,774.4 846.3,773.3 C846.7,772.2 847.1,771.1 847.5,770.0 C848.0,768.9 848.4,767.8 848.8,766.7 C849.2,765.6 849.7,764.5 850.1,763.4 C850.5,762.3 850.9,761.2 851.3,760.1 C851.7,759.0 852.1,757.9 852.5,756.8 C852.9,755.7 853.3,754.6 853.7,753.5 C854.1,752.4 854.6,751.3 854.9,750.2 C855.3,749.1 855.7,748.0 856.1,746.9 C856.5,745.8 856.9,744.7 857.3,743.6 C857.7,742.5 858.1,741.4 858.5,740.3 C858.9,739.2 859.3,738.0 859.7,736.9 C860.0,735.8 860.4,734.7 860.8,733.6 C861.2,732.5 861.6,731.4 862.0,730.3 C862.3,729.2 862.7,728.0 863.1,726.9 C863.5,725.8 863.9,724.7 864.2,723.6 C864.6,722.5 865.0,721.4 865.4,720.2 C865.8,719.1 866.1,718.0 866.5,716.9 C866.9,715.8 867.3,714.7 867.6,713.6 C868.0,712.4 868.4,711.3 868.8,710.2 C869.1,709.1 869.5,708.0 869.9,706.9 C870.3,705.8 870.6,704.6 871.0,703.5 C871.4,702.4 871.7,701.3 872.1,700.2 C872.5,699.1 872.9,697.9 873.2,696.8 C873.6,695.7 874.0,694.6 874.4,693.5 C874.7,692.4 875.1,691.2 875.5,690.1 C875.9,689.0 876.2,687.9 876.6,686.8 C877.0,685.7 877.4,684.6 877.7,683.4 C878.1,682.3 878.5,681.2 878.9,680.1 C879.3,679.0 879.6,677.9 880.0,676.8 C880.4,675.7 880.8,674.5 881.2,673.4 C881.5,672.3 881.9,671.2 882.3,670.1 C882.7,669.0 883.1,667.9 883.5,666.8 C883.9,665.7 884.2,664.5 884.6,663.4 C885.0,662.3 885.4,661.2 885.8,660.1 C886.2,659.0 886.6,657.9 887.0,656.8 C887.4,655.7 887.8,654.6 888.2,653.5 C888.6,652.4 889.0,651.3 889.4,650.2 C889.8,649.1 890.2,648.0 890.6,646.9 C891.0,645.8 891.4,644.7 891.8,643.6 C892.2,642.5 892.7,641.4 893.1,640.3 C893.5,639.2 893.9,638.1 894.3,637.0 C894.7,635.9 895.2,634.8 895.6,633.7 C896.0,632.6 896.4,631.5 896.9,630.4 C897.3,629.3 897.7,628.2 898.2,627.1 C898.6,626.1 899.0,625.0 899.5,623.9 C899.9,622.8 900.4,621.7 900.8,620.6 C901.2,619.5 901.7,618.4 902.1,617.4 C902.6,616.3 903.0,615.2 903.5,614.1 C903.9,613.0 904.4,611.9 904.8,610.9 C905.3,609.8 905.7,608.7 906.2,607.6 C906.7,606.5 907.1,605.5 907.6,604.4 C908.0,603.3 908.5,602.2 909.0,601.2 C909.4,600.1 909.9,599.0 910.4,597.9 C910.8,596.9 911.3,595.8 911.8,594.7 C912.3,593.6 912.7,592.6 913.2,591.5 C913.7,590.4 914.2,589.4 914.7,588.3 C915.1,587.2 915.6,586.2 916.1,585.1 C916.6,584.0 917.1,583.0 917.6,581.9 C918.1,580.8 918.5,579.8 919.0,578.7 C919.5,577.6 920.0,576.6 920.5,575.5 C921.0,574.4 921.5,573.4 922.0,572.3 C922.5,571.3 923.0,570.2 923.5,569.1 C924.0,568.1 924.5,567.0 925.0,566.0 C925.5,564.9 926.0,563.9 926.6,562.8 C927.1,561.7 927.6,560.7 928.1,559.6 C928.6,558.6 929.1,557.5 929.6,556.5 C930.2,555.4 930.7,554.4 931.2,553.3 C931.7,552.3 932.2,551.2 932.8,550.1 C933.3,549.1 933.8,548.0 934.3,547.0 C934.9,545.9 935.4,544.9 935.9,543.9 C936.4,542.8 937.0,541.8 937.5,540.7 C938.0,539.7 938.6,538.6 939.1,537.6 C939.6,536.5 940.2,535.5 940.7,534.4 C941.3,533.4 941.8,532.3 942.3,531.3 C942.9,530.3 943.4,529.2 944.0,528.2 C944.5,527.1 945.1,526.1 945.6,525.0 C946.1,524.0 946.7,523.0 947.2,521.9 C947.8,520.9 948.3,519.8 948.9,518.8 C949.5,517.8 950.0,516.7 950.6,515.7 C951.1,514.7 951.7,513.6 952.2,512.6 C952.8,511.5 953.3,510.5 953.9,509.5 C954.5,508.4 955.0,507.4 955.6,506.4 C956.2,505.3 956.7,504.3 957.3,503.3 C957.9,502.2 958.4,501.2 959.0,500.2 C959.6,499.1 960.1,498.1 960.7,497.1 C961.3,496.1 961.8,495.0 962.4,494.0 C963.0,493.0 963.6,491.9 964.1,490.9 C964.7,489.9 965.3,488.9 965.9,487.8 C966.5,486.8 967.0,485.8 967.6,484.8 C968.2,483.7 968.8,482.7 969.4,481.7 C970.0,480.7 970.6,479.7 971.1,478.6 C971.7,477.6 972.3,476.6 972.9,475.6 C973.5,474.6 974.1,473.5 974.7,472.5 C975.3,471.5 975.9,470.5 976.5,469.5 C977.1,468.5 977.7,467.5 978.3,466.5 C978.9,465.5 979.5,464.4 980.1,463.4 C980.7,462.4 981.3,461.4 981.9,460.4 C982.6,459.4 983.2,458.4 983.8,457.4 C984.4,456.4 985.0,455.4 985.6,454.4 C986.3,453.4 986.9,452.4 987.5,451.4 C988.1,450.4 988.7,449.4 989.4,448.4 C990.0,447.4 990.6,446.4 991.3,445.5 C991.9,444.5 992.5,443.5 993.2,442.5 C993.8,441.5 994.4,440.5 995.1,439.5 C995.7,438.6 996.3,437.6 997.0,436.6 C997.6,435.6 998.3,434.6 998.9,433.7 C999.6,432.7 1000.2,431.7 1000.9,430.7 C1001.5,429.8 1002.2,428.8 1002.8,427.8 C1003.5,426.9 1004.1,425.9 1004.8,424.9 C1005.5,424.0 1006.1,423.0 1006.8,422.1 C1007.5,421.1 1008.1,420.1 1008.8,419.2 C1009.5,418.2 1010.1,417.3 1010.8,416.3 C1011.5,415.4 1012.2,414.4 1012.8,413.5 C1013.5,412.5 1014.2,411.6 1014.9,410.6 C1015.6,409.7 1016.2,408.7 1016.9,407.8 C1017.6,406.9 1018.3,405.9 1019.0,405.0 C1019.7,404.0 1020.4,403.1 1021.1,402.2 C1021.7,401.2 1022.4,400.3 1023.1,399.4 C1023.8,398.4 1024.5,397.5 1025.2,396.5 C1025.9,395.6 1026.6,394.7 1027.3,393.7 C1028.0,392.8 1028.6,391.8 1029.3,390.9 C1030.0,390.0 1030.7,389.0 1031.4,388.1 C1032.1,387.1 1032.8,386.2 1033.5,385.2 C1034.1,384.3 1034.8,383.4 1035.5,382.4 C1036.2,381.5 1036.9,380.5 1037.5,379.6 C1038.2,378.6 1038.9,377.7 1039.6,376.7 C1040.3,375.7 1040.9,374.8 1041.6,373.8 C1042.3,372.9 1043.0,371.9 1043.6,371.0 C1044.3,370.0 1045.0,369.1 1045.7,368.1 C1046.3,367.1 1047.0,366.2 1047.7,365.2 C1048.4,364.3 1049.1,363.3 1049.7,362.3 C1050.4,361.4 1051.1,360.4 1051.8,359.5 C1052.5,358.5 1053.1,357.6 1053.8,356.6 C1054.5,355.7 1055.2,354.7 1055.9,353.8 C1056.6,352.8 1057.3,351.9 1058.0,350.9 C1058.7,350.0 1059.4,349.0 1060.1,348.1 C1060.8,347.1 1061.5,346.2 1062.2,345.3 C1062.9,344.3 1063.6,343.4 1064.3,342.5 C1065.0,341.5 1065.7,340.6 1066.5,339.7 C1067.2,338.8 1067.9,337.8 1068.6,336.9 C1069.4,336.0 1070.1,335.1 1070.9,334.2 C1071.6,333.3 1072.3,332.4 1073.1,331.5 C1073.8,330.6 1074.6,329.7 1075.4,328.8 C1076.1,327.9 1076.9,327.0 1077.7,326.2 C1078.4,325.3 1079.2,324.4 1080.0,323.6 C1080.8,322.7 1081.6,321.8 1082.4,321.0 C1083.2,320.1 1084.0,319.3 1084.8,318.5 C1085.6,317.6 1086.4,316.8 1087.3,316.0 C1088.1,315.1 1088.9,314.3 1089.8,313.5 C1090.6,312.7 1091.4,311.9 1092.3,311.1 C1093.1,310.3 1094.0,309.5 1094.9,308.7 C1095.7,307.9 1096.6,307.1 1097.5,306.3 C1098.3,305.5 1099.2,304.8 1100.1,304.0 C1100.9,303.2 1101.8,302.4 1102.7,301.6 C1103.6,300.8 1104.5,300.1 1105.3,299.3 C1106.2,298.5 1107.1,297.7 1108.0,296.9 C1108.8,296.1 1109.7,295.4 1110.6,294.6 C1111.5,293.8 1112.3,293.0 1113.2,292.2 C1114.1,291.4 1115.0,290.6 1115.9,289.9 C1116.7,289.1 1117.6,288.3 1118.5,287.5 C1119.4,286.7 1120.3,286.0 1121.2,285.2 C1122.0,284.4 1122.9,283.6 1123.8,282.8 C1124.7,282.1 1125.6,281.3 1126.5,280.5 C1127.4,279.7 1128.2,279.0 1129.1,278.2 C1130.0,277.4 1130.9,276.6 1131.8,275.9 C1132.7,275.1 1133.6,274.3 1134.5,273.6 C1135.4,272.8 1136.3,272.1 1137.2,271.3 C1138.1,270.5 1139.0,269.8 1139.9,269.0 C1140.8,268.3 1141.7,267.5 1142.6,266.8 C1143.6,266.0 1144.5,265.3 1145.4,264.5 C1146.3,263.8 1147.2,263.1 1148.1,262.3 C1149.1,261.6 1150.0,260.9 1150.9,260.2 C1151.8,259.4 1152.8,258.7 1153.7,258.0 C1154.6,257.3 1155.5,256.6 1156.5,255.9 C1157.4,255.1 1158.4,254.4 1159.3,253.7 C1160.2,253.1 1161.2,252.4 1162.1,251.7 C1163.1,251.0 1164.0,250.3 1165.0,249.6 C1166.0,248.9 1166.9,248.3 1167.9,247.6 C1168.8,246.9 1169.8,246.3 1170.8,245.6 C1171.8,245.0 1172.7,244.3 1173.7,243.7 C1174.7,243.0 1175.7,242.4 1176.6,241.7 C1177.6,241.1 1178.6,240.4 1179.6,239.8 C1180.6,239.2 1181.6,238.6 1182.6,237.9 C1183.6,237.3 1184.5,236.7 1185.5,236.1 C1186.5,235.5 1187.5,234.9 1188.6,234.3 C1189.6,233.7 1190.6,233.1 1191.6,232.5 C1192.6,231.9 1193.6,231.3 1194.6,230.7 C1195.6,230.1 1196.6,229.5 1197.7,228.9 C1198.7,228.4 1199.7,227.8 1200.7,227.2 C1201.7,226.7 1202.8,226.1 1203.8,225.5 C1204.8,225.0 1205.9,224.4 1206.9,223.8 C1207.9,223.3 1209.0,222.7 1210.0,222.2 C1211.0,221.6 1212.1,221.1 1213.1,220.6 C1214.2,220.0 1215.2,219.5 1216.2,218.9 C1217.3,218.4 1218.3,217.9 1219.4,217.4 C1220.4,216.8 1221.5,216.3 1222.5,215.8 C1223.6,215.3 1224.7,214.8 1225.7,214.2 C1226.8,213.7 1227.8,213.2 1228.9,212.7 C1229.9,212.2 1231.0,211.7 1232.1,211.2 C1233.1,210.7 1234.2,210.2 1235.3,209.7 C1236.3,209.2 1237.4,208.7 1238.5,208.2 C1239.5,207.7 1240.6,207.3 1241.7,206.8 C1242.8,206.3 1243.8,205.8 1244.9,205.3 C1246.0,204.8 1247.1,204.4 1248.1,203.9 C1249.2,203.4 1250.3,203.0 1251.4,202.5 C1252.5,202.0 1253.5,201.6 1254.6,201.1 C1255.7,200.6 1256.8,200.2 1257.9,199.7 C1259.0,199.3 1260.0,198.8 1261.1,198.4 C1262.2,197.9 1263.3,197.5 1264.4,197.0 C1265.5,196.6 1266.6,196.1 1267.7,195.7 C1268.7,195.2 1269.8,194.8 1270.9,194.3 C1272.0,193.9 1273.1,193.5 1274.2,193.0 C1275.3,192.6 1276.4,192.2 1277.5,191.7 C1278.6,191.3 1279.7,190.9 1280.8,190.4 C1281.9,190.0 1283.0,189.6 1284.1,189.2 C1285.2,188.7 1286.3,188.3 1287.4,187.9 C1288.5,187.5 1289.6,187.1 1290.7,186.7 C1291.8,186.2 1292.9,185.8 1294.0,185.4 C1295.1,185.0 1296.2,184.6 1297.3,184.2 C1298.4,183.8 1299.5,183.4 1300.6,183.0 C1301.7,182.6 1302.8,182.2 1303.9,181.8 C1305.0,181.4 1306.1,181.0 1307.2,180.6 C1308.3,180.2 1309.4,179.8 1310.6,179.4 C1311.7,179.1 1312.8,178.7 1313.9,178.3 C1315.0,177.9 1316.1,177.5 1317.2,177.1 C1318.3,176.8 1319.5,176.4 1320.6,176.0 C1321.7,175.6 1322.8,175.3 1323.9,174.9 C1325.0,174.5 1326.1,174.2 1327.3,173.8 C1328.4,173.4 1329.5,173.1 1330.6,172.7 C1331.7,172.3 1332.8,172.0 1334.0,171.6 C1335.1,171.3 1336.2,170.9 1337.3,170.6 C1338.4,170.2 1339.6,169.8 1340.7,169.5 C1341.8,169.1 1342.9,168.8 1344.1,168.5 C1345.2,168.1 1346.3,167.8 1347.4,167.4 C1348.6,167.1 1349.7,166.8 1350.8,166.4 C1351.9,166.1 1353.1,165.7 1354.2,165.4 C1355.3,165.1 1356.4,164.8 1357.6,164.4 C1358.7,164.1 1359.8,163.8 1361.0,163.5 C1362.1,163.1 1363.2,162.8 1364.4,162.5 C1365.5,162.2 1366.6,161.9 1367.7,161.5 C1368.9,161.2 1370.0,160.9 1371.1,160.6 C1372.3,160.3 1373.4,160.0 1374.5,159.7 C1375.7,159.4 1376.8,159.1 1378.0,158.8 C1379.1,158.5 1380.2,158.2 1381.4,157.9 C1382.5,157.6 1383.6,157.3 1384.8,157.0 C1385.9,156.7 1387.0,156.4 1388.2,156.1 C1389.3,155.8 1390.5,155.6 1391.6,155.3 C1392.7,155.0 1393.9,154.7 1395.0,154.4 C1396.2,154.2 1397.3,153.9 1398.5,153.6 C1399.6,153.3 1400.7,153.1 1401.9,152.8 C1403.0,152.5 1404.2,152.3 1405.3,152.0 C1406.5,151.7 1407.6,151.5 1408.7,151.2 C1409.9,150.9 1411.0,150.7 1412.2,150.4 C1413.3,150.2 1414.5,149.9 1415.6,149.7 C1416.8,149.4 1417.9,149.2 1419.1,148.9 C1420.2,148.7 1421.4,148.4 1422.5,148.2 C1423.7,147.9 1424.8,147.7 1426.0,147.5 C1427.1,147.2 1428.3,147.0 1429.4,146.7 C1430.6,146.5 1431.7,146.3 1432.9,146.0 C1434.0,145.8 1435.2,145.6 1436.3,145.4 C1437.5,145.1 1438.6,144.9 1439.8,144.7 C1440.9,144.5 1442.1,144.3 1443.2,144.0 C1444.4,143.8 1445.6,143.6 1446.7,143.4 C1447.9,143.2 1449.0,143.0 1450.2,142.8 C1451.3,142.6 1452.5,142.4 1453.6,142.1 C1454.8,141.9 1456.0,141.7 1457.1,141.5 C1458.3,141.3 1459.4,141.2 1460.6,141.0 C1461.8,140.8 1462.9,140.6 1464.1,140.4 C1465.2,140.2 1466.4,140.0 1467.6,139.8 C1468.7,139.6 1469.9,139.4 1471.0,139.3 C1472.2,139.1 1473.4,138.9 1474.5,138.7 C1475.7,138.6 1476.8,138.4 1478.0,138.2 C1479.2,138.0 1480.3,137.9 1481.5,137.7 C1482.7,137.5 1483.8,137.4 1485.0,137.2 C1486.1,137.0 1487.3,136.9 1488.5,136.7 C1489.6,136.6 1490.8,136.4 1492.0,136.3 C1493.1,136.1 1494.3,135.9 1495.5,135.8 C1496.6,135.7 1497.8,135.5 1499.0,135.4 C1500.1,135.2 1501.3,135.1 1502.5,134.9 C1503.6,134.8 1504.8,134.7 1506.0,134.5 C1507.1,134.4 1508.3,134.2 1509.5,134.1 C1510.6,134.0 1511.8,133.9 1513.0,133.7 C1514.1,133.6 1515.3,133.5 1516.5,133.4 C1517.6,133.2 1518.8,133.1 1520.0,133.0 C1521.2,132.9 1522.9,132.7 1523.5,132.6" fill="none" stroke="#3fae3f" stroke-width="4" stroke-linejoin="round" stroke-linecap="round"/>
<line x1="122.5" y1="55.6" x2="1527.5" y2="55.6" stroke="#000" stroke-width="4"/>
<line x1="122.5" y1="1133.7" x2="1527.5" y2="1133.7" stroke="#000" stroke-width="4"/>
<line x1="124.5" y1="53.6" x2="124.5" y2="1135.7" stroke="#9641a8" stroke-width="4"/>
<line x1="1525.5" y1="53.6" x2="1525.5" y2="1135.7" stroke="#ff7f0e" stroke-width="4"/>
<polyline points="1711.5,55.0 1693.5,55.0 1693.5,1132.6 1711.5,1132.6" fill="none" stroke="#3fae3f" stroke-width="4"/>
<line x1="124.5" y1="132.6" x2="143.5" y2="132.6" stroke="#9641a8" stroke-width="4"/>
<line x1="124.5" y1="286.6" x2="143.5" y2="286.6" stroke="#9641a8" stroke-width="4"/>
<line x1="124.5" y1="440.6" x2="143.5" y2="440.6" stroke="#9641a8" stroke-width="4"/>
<line x1="124.5" y1="594.6" x2="143.5" y2="594.6" stroke="#9641a8" stroke-width="4"/>
<line x1="124.5" y1="748.7" x2="143.5" y2="748.7" stroke="#9641a8" stroke-width="4"/>
<line x1="124.5" y1="902.7" x2="143.5" y2="902.7" stroke="#9641a8" stroke-width="4"/>
<line x1="124.5" y1="1056.7" x2="143.5" y2="1056.7" stroke="#9641a8" stroke-width="4"/>
<line x1="358.0" y1="1133.7" x2="358.0" y2="1114.7" stroke="#000" stroke-width="4"/>
<line x1="591.5" y1="1133.7" x2="591.5" y2="1114.7" stroke="#000" stroke-width="4"/>
<line x1="825.0" y1="1133.7" x2="825.0" y2="1114.7" stroke="#000" stroke-width="4"/>
<line x1="1058.5" y1="1133.7" x2="1058.5" y2="1114.7" stroke="#000" stroke-width="4"/>
<line x1="1292.0" y1="1133.7" x2="1292.0" y2="1114.7" stroke="#000" stroke-width="4"/>
<line x1="1525.5" y1="174.0" x2="1544.5" y2="174.0" stroke="#ff7f0e" stroke-width="4"/>
<line x1="1525.5" y1="413.6" x2="1544.5" y2="413.6" stroke="#ff7f0e" stroke-width="4"/>
<line x1="1525.5" y1="653.2" x2="1544.5" y2="653.2" stroke="#ff7f0e" stroke-width="4"/>
<line x1="1525.5" y1="892.8" x2="1544.5" y2="892.8" stroke="#ff7f0e" stroke-width="4"/>
<line x1="1525.5" y1="1132.4" x2="1544.5" y2="1132.4" stroke="#ff7f0e" stroke-width="4"/>
<line x1="1693.5" y1="917.1" x2="1711.5" y2="917.1" stroke="#3fae3f" stroke-width="4"/>
<line x1="1693.5" y1="701.6" x2="1711.5" y2="701.6" stroke="#3fae3f" stroke-width="4"/>
<line x1="1693.5" y1="486.0" x2="1711.5" y2="486.0" stroke="#3fae3f" stroke-width="4"/>
<line x1="1693.5" y1="270.5" x2="1711.5" y2="270.5" stroke="#3fae3f" stroke-width="4"/>
<g font-family="&quot;Liberation Serif&quot;, serif" font-size="68">
<text x="101" y="151.1" text-anchor="end" fill="#9641a8">0.7</text>
<text x="101" y="305.1" text-anchor="end" fill="#9641a8">0.6</text>
<text x="101" y="459.1" text-anchor="end" fill="#9641a8">0.5</text>
<text x="101" y="613.1" text-anchor="end" fill="#9641a8">0.4</text>
<text x="101" y="767.2" text-anchor="end" fill="#9641a8">0.3</text>
<text x="101" y="921.2" text-anchor="end" fill="#9641a8">0.2</text>
<text x="101" y="1075.2" text-anchor="end" fill="#9641a8">0.1</text>
<text x="1558" y="194.6" fill="#ff7f0e">32</text>
<text x="1558" y="434.2" fill="#ff7f0e">28</text>
<text x="1558" y="673.8" fill="#ff7f0e">24</text>
<text x="1558" y="913.4" fill="#ff7f0e">20</text>
<text x="1558" y="1153.0" fill="#ff7f0e">16</text>
<text x="1730" y="75.8" fill="#3fae3f">1.0</text>
<text x="1730" y="291.3" fill="#3fae3f">0.8</text>
<text x="1730" y="506.8" fill="#3fae3f">0.6</text>
<text x="1730" y="722.4" fill="#3fae3f">0.4</text>
<text x="1730" y="937.9" fill="#3fae3f">0.2</text>
<text x="1730" y="1153.4" fill="#3fae3f">0.0</text>
<text x="124.5" y="1207" text-anchor="middle" fill="#000">0</text>
<text x="358.0" y="1207" text-anchor="middle" fill="#000">25</text>
<text x="591.5" y="1207" text-anchor="middle" fill="#000">50</text>
<text x="825.0" y="1207" text-anchor="middle" fill="#000">75</text>
<text x="1058.5" y="1207" text-anchor="middle" fill="#000">100</text>
<text x="1292.0" y="1207" text-anchor="middle" fill="#000">125</text>
<text x="1525.5" y="1207" text-anchor="middle" fill="#000">150</text>
<text x="0" y="0" text-anchor="middle" fill="#000" font-size="67.4" transform="translate(824.5,1277.6) scale(1,0.913)">Time (min)</text>
</g>
</svg>
</body></html>
